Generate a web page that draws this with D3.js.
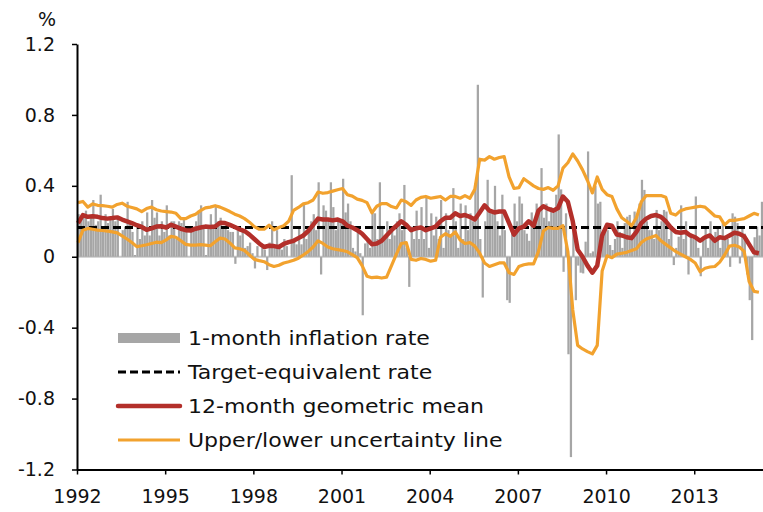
<!DOCTYPE html>
<html lang="en">
<head>
<meta charset="utf-8">
<title>Inflation</title>
<script src="https://d3js.org/d3.v7.min.js"></script>
<style>
  body { margin: 0; background: #fff; }
  text { font-family: "DejaVu Sans", Verdana, sans-serif; fill: #111; }
</style>
</head>
<body>
<div id="my_dataviz"></div>
<script>
// ---- data ----
const startYear = 1992;
const xTickYears = [1992, 1995, 1998, 2001, 2004, 2007, 2010, 2013];
const yTickValues = [-1.2, -0.8, -0.4, 0, 0.4, 0.8, 1.2];
const targetRate = 0.165;

// 1-month inflation rate, monthly from Jan 1992
const monthlyRate = [
  0.24, 0.22, 0.24, 0.26, 0.2, 0.22, 0.32, 0.18, 0.2, 0.35, 0.16, 0.24,
  0.19, 0.21, 0.27, 0.2, 0.22, 0.0, 0.15, 0.17, 0.31, 0.2, 0.14, 0.01,
  0.18, 0.1, 0.2, 0.12, 0.25, 0.12, 0.32, 0.22, 0.25, 0.12, 0.2, 0.14,
  0.29, 0.12, 0.2, 0.2, 0.1, 0.2, 0.19, 0.22, 0.16, 0.0, 0.15, 0.17,
  0.2, 0.26, 0.29, 0.18, 0.01, 0.16, 0.24, 0.18, 0.28, 0.2, 0.22, 0.16,
  0.17, 0.15, 0.14, 0.14, -0.04, 0.15, 0.12, 0.15, 0.05, 0.06, 0.08, 0.02,
  -0.066, 0.06, 0.0, 0.05, 0.04, -0.075, 0.08, 0.2, 0.06, 0.15, 0.05, 0.04,
  0.1, 0.06, 0.0, 0.46, 0.09, 0.07, 0.17, 0.07, 0.3, 0.1, 0.14, 0.2,
  0.24, 0.15, 0.42, -0.1, 0.29, 0.26, 0.2, 0.42, 0.28, 0.15, 0.22, 0.2,
  0.44, 0.25, 0.3, 0.2, 0.05, 0.03, 0.15, 0.02, -0.33, 0.075, 0.1, 0.05,
  0.255, 0.245, 0.1, 0.42, 0.17, 0.12, 0.2, 0.1, 0.17, 0.12, 0.2, 0.245,
  0.15, 0.405, 0.05, -0.17, 0.17, 0.1, 0.26, 0.1, 0.28, 0.1, 0.34, 0.05,
  0.245, 0.12, 0.226, 0.1, 0.32, 0.05, 0.245, 0.15, 0.12, 0.387, 0.2, 0.05,
  0.3, 0.1, 0.29, 0.15, 0.245, 0.2, 0.415, 0.97, 0.1, -0.23, 0.2, 0.434,
  0.25, 0.26, 0.4, 0.2, 0.12, 0.35, 0.15, -0.245, -0.26, 0.15, 0.3, 0.2,
  0.34, 0.3, 0.15, 0.13, 0.09, 0.25, 0.19, 0.3, 0.25, 0.5, 0.22, 0.3,
  0.2, 0.28, 0.25, 0.35, 0.69, 0.38, -0.085, 0.245, -0.55, -1.13, 0.15, -0.245,
  -0.05, -0.09, -0.094, 0.085, 0.594, 0.02, 0.03, 0.4, 0.3, 0.31, 0.1, 0.15,
  0.15, 0.066, 0.038, 0.1, 0.2, 0.14, 0.05, 0.19, 0.226, 0.236, 0.1, 0.255,
  0.226, 0.3, 0.434, 0.377, 0.2, 0.15, 0.15, 0.1, 0.264, 0.15, 0.2, 0.264,
  0.255, 0.1, 0.17, -0.047, 0.05, 0.113, 0.29, 0.1, 0.2, -0.1, 0.13, 0.1,
  0.34, 0.05, -0.11, 0.113, 0.17, 0.05, 0.2, 0.1, 0.14, 0.16, 0.05, 0.19,
  0.11, 0.1, -0.057, 0.245, 0.226, 0.19, -0.038, 0.17, 0.13, -0.1, -0.245, -0.47,
  0.11, 0.17, 0.12, 0.31
];

// lines, read every second month from Jan 1992
const geoMean = [
  0.19, 0.235, 0.225, 0.228, 0.225, 0.218, 0.215, 0.218, 0.222, 0.21,
  0.2, 0.19, 0.178, 0.168, 0.152, 0.16, 0.17, 0.172, 0.165, 0.18,
  0.17, 0.158, 0.15, 0.148, 0.158, 0.165, 0.17, 0.168, 0.17, 0.192,
  0.19, 0.18, 0.168, 0.155, 0.145, 0.125, 0.1, 0.075, 0.055, 0.062,
  0.06, 0.055, 0.072, 0.082, 0.09, 0.105, 0.12, 0.145, 0.18, 0.215,
  0.21, 0.21, 0.205, 0.21, 0.2, 0.175, 0.165, 0.15, 0.13, 0.1,
  0.07, 0.075, 0.09, 0.12, 0.15, 0.175, 0.2, 0.18, 0.15, 0.16,
  0.165, 0.15, 0.16, 0.17, 0.2, 0.22, 0.22, 0.245, 0.23, 0.235,
  0.225, 0.21, 0.25, 0.29, 0.26, 0.25, 0.255, 0.255, 0.19, 0.125,
  0.16, 0.17, 0.2, 0.175, 0.26, 0.285, 0.27, 0.26, 0.275, 0.34,
  0.31, 0.2, 0.04, 0.0, -0.05, -0.09, -0.05, 0.12, 0.18, 0.175,
  0.125, 0.12, 0.11, 0.105, 0.14, 0.19, 0.215, 0.23, 0.235, 0.225,
  0.2, 0.165, 0.14, 0.135, 0.14, 0.12, 0.11, 0.09, 0.11, 0.12,
  0.09, 0.11, 0.105, 0.12, 0.135, 0.13, 0.115, 0.07, 0.025, 0.02
];
const upperLine = [
  0.305, 0.312, 0.28, 0.298, 0.29, 0.288, 0.285, 0.28, 0.295, 0.302,
  0.285, 0.278, 0.27, 0.255, 0.272, 0.28, 0.265, 0.258, 0.255, 0.252,
  0.245, 0.215, 0.215, 0.23, 0.24, 0.26, 0.276, 0.28, 0.288, 0.28,
  0.268, 0.255, 0.24, 0.23, 0.215, 0.195, 0.17, 0.155, 0.155, 0.178,
  0.152, 0.165, 0.175, 0.2, 0.262, 0.278, 0.298, 0.305, 0.32, 0.365,
  0.358, 0.362, 0.37, 0.378, 0.385, 0.35, 0.342, 0.325, 0.318, 0.305,
  0.248, 0.285, 0.3, 0.3, 0.283, 0.275, 0.32, 0.31, 0.29, 0.32,
  0.335, 0.34, 0.33, 0.335, 0.34, 0.32, 0.34, 0.34, 0.33, 0.345,
  0.33, 0.38, 0.55, 0.545, 0.565, 0.55, 0.56, 0.565, 0.45, 0.385,
  0.39, 0.44, 0.42, 0.4, 0.385, 0.38, 0.39, 0.375, 0.4, 0.5,
  0.53, 0.58, 0.54, 0.49, 0.43, 0.36, 0.45, 0.38, 0.35, 0.34,
  0.27, 0.22, 0.2, 0.175, 0.22, 0.31, 0.345, 0.345, 0.345, 0.345,
  0.335, 0.245, 0.235, 0.26, 0.27, 0.275, 0.28, 0.285, 0.28, 0.255,
  0.23, 0.225, 0.18, 0.205, 0.205, 0.21, 0.215, 0.23, 0.245, 0.235
];
const lowerLine = [
  0.08, 0.15, 0.16, 0.155, 0.15, 0.148, 0.145, 0.14, 0.135, 0.118,
  0.1, 0.08, 0.057, 0.062, 0.068, 0.075, 0.082, 0.08, 0.095, 0.115,
  0.11, 0.09, 0.07, 0.066, 0.066, 0.068, 0.066, 0.062, 0.085, 0.105,
  0.1, 0.078, 0.05, 0.045, 0.035, 0.01, -0.015, -0.022, -0.028, -0.045,
  -0.055, -0.048, -0.035, -0.028, -0.02, -0.008, 0.01, 0.03, 0.055, 0.09,
  0.075, 0.055, 0.045, 0.04, 0.035, 0.028, 0.012, -0.005, -0.05, -0.11,
  -0.118, -0.115, -0.12, -0.115, -0.05, 0.015, 0.075, 0.08, -0.015, -0.02,
  -0.01, -0.015, -0.025, -0.02, 0.11, 0.13, 0.115, 0.14, 0.095, 0.075,
  0.08, 0.06, 0.02, -0.035, -0.055, -0.045, -0.035, -0.035, -0.09, -0.1,
  -0.055, -0.045, -0.04, -0.04, 0.03, 0.145, 0.165, 0.16, 0.16, 0.175,
  0.03, -0.3, -0.5, -0.52, -0.535, -0.548, -0.5, -0.08, 0.005, -0.005,
  0.015, 0.02, 0.025, 0.035, 0.045, 0.08, 0.1, 0.11, 0.12, 0.09,
  0.07, 0.05, 0.03, 0.015, 0.0, -0.015, -0.035, -0.085, -0.065, -0.058,
  -0.055, -0.03, 0.01, 0.06, 0.065, 0.055, 0.03, -0.14, -0.195, -0.2
];

const legendLabels = [
  "1-month inflation rate",
  "Target-equivalent rate",
  "12-month geometric mean",
  "Upper/lower uncertainty line"
];

// ---- chart ----
const W = 763, H = 512;
const colBar = "#a6a6a6", colRed = "#b32f2a", colOrange = "#f2a22e";

const svg = d3.select("#my_dataviz")
  .append("svg")
    .attr("width", W)
    .attr("height", H);

const x = d3.scaleLinear()
  .domain([startYear, 2015.34])
  .range([77, W]);

const y = d3.scaleLinear()
  .domain([-1.2, 1.2])
  .range([469.5, 44]);

const monthW = x(startYear + 1 / 12) - x(startYear);

// zero line
svg.append("line")
  .attr("x1", x(startYear)).attr("x2", W)
  .attr("y1", y(0)).attr("y2", y(0))
  .attr("stroke", "#c8c8c8")
  .attr("stroke-width", 2);

// bars
svg.append("g")
  .selectAll("rect")
  .data(monthlyRate)
  .join("rect")
    .attr("x", (d, i) => x(startYear + i / 12) + 0.5)
    .attr("width", monthW - 0.2)
    .attr("y", d => y(Math.max(0, d)))
    .attr("height", d => Math.abs(y(d) - y(0)))
    .attr("fill", colBar);

// target-equivalent rate
svg.append("line")
  .attr("x1", x(startYear)).attr("x2", W)
  .attr("y1", y(targetRate)).attr("y2", y(targetRate))
  .attr("stroke", "#000")
  .attr("stroke-width", 3)
  .attr("stroke-dasharray", "8,4");

const line = d3.line()
  .x((d, i) => x(startYear + i / 6) + 1)
  .y(d => y(d));

svg.append("path").datum(upperLine)
  .attr("d", line).attr("fill", "none")
  .attr("stroke", colOrange).attr("stroke-width", 3.2)
  .attr("stroke-linejoin", "round");

svg.append("path").datum(lowerLine)
  .attr("d", line).attr("fill", "none")
  .attr("stroke", colOrange).attr("stroke-width", 3.2)
  .attr("stroke-linejoin", "round");

svg.append("path").datum(geoMean)
  .attr("d", line).attr("fill", "none")
  .attr("stroke", colRed).attr("stroke-width", 4.5)
  .attr("stroke-linejoin", "round");

// axes
svg.append("g")
  .attr("transform", `translate(${x(startYear)},0)`)
  .call(d3.axisLeft(y).tickValues(yTickValues).tickSize(5).tickSizeOuter(0).tickPadding(17)
    .tickFormat(d => d === 0 ? "0" : d.toFixed(1)));

svg.append("g")
  .attr("transform", `translate(0,${y(-1.2)})`)
  .call(d3.axisBottom(x).tickValues(xTickYears).tickSize(5).tickSizeOuter(0).tickPadding(15)
    .tickFormat(d3.format("d")));

svg.selectAll(".domain").attr("stroke", "#000").attr("stroke-width", 2);
svg.selectAll(".tick line").attr("stroke", "#000").attr("stroke-width", 1.5);
svg.selectAll(".tick text")
  .attr("font-size", 19)
  .attr("font-family", "DejaVu Sans, Verdana, sans-serif")
  .attr("fill", "#111");

// unit label
svg.append("text")
  .attr("x", 47).attr("y", 26)
  .attr("text-anchor", "middle")
  .attr("font-size", 19)
  .text("%");

// legend
const legend = svg.append("g");
const rowY = d3.range(legendLabels.length).map(i => 338 + i * 34);

legend.append("rect")
  .attr("x", 118).attr("y", rowY[0] - 5)
  .attr("width", 62).attr("height", 10)
  .attr("fill", colBar);
legend.append("line")
  .attr("x1", 118).attr("x2", 180).attr("y1", rowY[1]).attr("y2", rowY[1])
  .attr("stroke", "#000").attr("stroke-width", 3).attr("stroke-dasharray", "8,4");
legend.append("line")
  .attr("x1", 118).attr("x2", 180).attr("y1", rowY[2]).attr("y2", rowY[2])
  .attr("stroke", colRed).attr("stroke-width", 4.5).attr("stroke-linecap", "round");
legend.append("line")
  .attr("x1", 118).attr("x2", 180).attr("y1", rowY[3]).attr("y2", rowY[3])
  .attr("stroke", colOrange).attr("stroke-width", 3.2);

legend.selectAll("text.lab")
  .data(legendLabels)
  .join("text")
    .attr("class", "lab")
    .attr("transform", (d, i) => `translate(188,${rowY[i] + 7}) scale(1.16,1)`)
    .attr("font-size", 19)
    .text(d => d);
</script>
</body>
</html>
